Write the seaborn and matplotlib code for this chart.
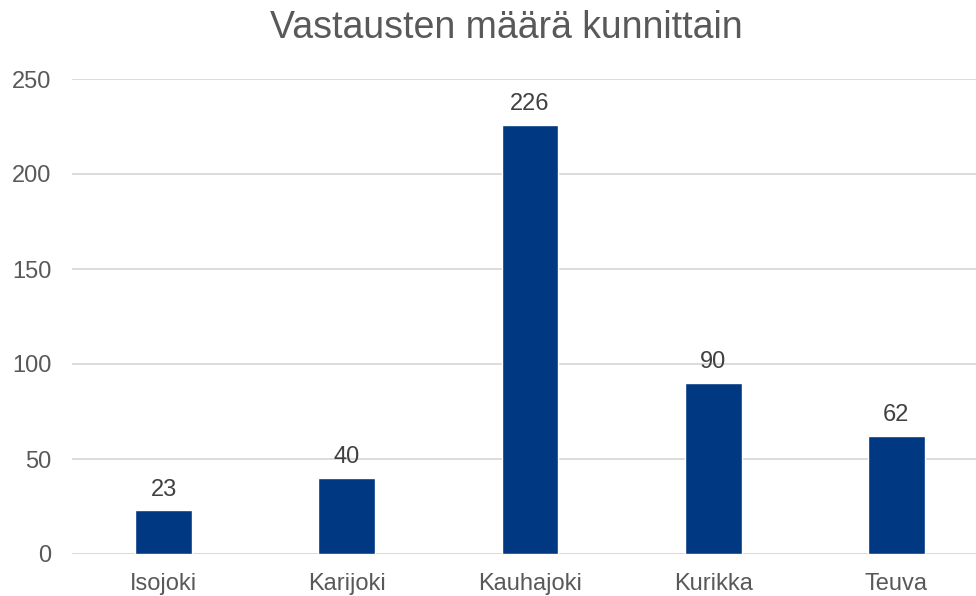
import matplotlib
matplotlib.use("Agg")
import matplotlib.pyplot as plt
import seaborn as sns
import pandas as pd

# data
municipalities = ["Isojoki", "Karijoki", "Kauhajoki", "Kurikka", "Teuva"]
responses = [23, 40, 226, 90, 62]
yticks = [0, 50, 100, 150, 200, 250]

sns.set_theme(style="white")
plt.rcParams['font.family'] = ['Liberation Sans', 'DejaVu Sans']

df = pd.DataFrame({"kunta": municipalities, "vastaukset": responses})

fig = plt.figure(figsize=(9.76, 5.96), dpi=100)
ax = fig.add_axes([72 / 976, 42 / 596, 916 / 976, 475 / 596])

sns.barplot(data=df, x="kunta", y="vastaukset", color="#003882",
            width=0.31, saturation=1, ax=ax, zorder=3)

ax.set_ylim(0, 250)
ax.set_xlim(-0.5, 4.5)
ax.set_yticks(yticks)
ax.yaxis.grid(True, color="#d9d9d9", linewidth=1.3, zorder=0)
ax.set_axisbelow(True)
for s in ax.spines.values():
    s.set_visible(False)
ax.axhline(0, color="#d9d9d9", linewidth=1.3, zorder=1)

ax.set_xlabel("")
ax.set_ylabel("")
ax.tick_params(axis="both", length=0, labelsize=17, labelcolor="#595959")
ax.tick_params(axis="x", pad=14)
ax.tick_params(axis="y", pad=15)

for c in ax.containers:
    ax.bar_label(c, padding=7, fontsize=17, color="#404040")

fig.suptitle("Vastausten määrä kunnittain", x=506 / 976, y=0.983, va="top",
             fontsize=27, color="#595959")

fig.savefig("out.png", dpi=100)
